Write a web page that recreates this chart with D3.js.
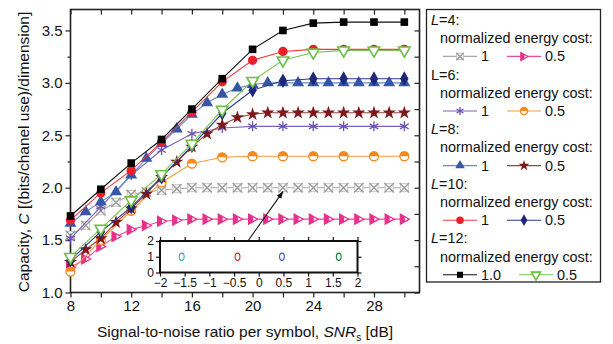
<!DOCTYPE html>
<html>
<head>
<meta charset="utf-8">
<script src="https://cdn.jsdelivr.net/npm/d3@7"></script>
<style>
  body { margin: 0; background: #fff; }
  svg text { font-family: "Liberation Sans", Arial, Helvetica, sans-serif; fill: #111; }
</style>
</head>
<body>
<div id="container"></div>
<script>
/* DATA */
const snr1 = [8, 9, 10, 11, 12, 13, 14, 15, 16, 17, 18, 19, 20, 21, 22, 23, 24, 25, 26, 27, 28, 29, 30];
const snr2 = [8, 10, 12, 14, 16, 18, 20, 22, 24, 26, 28, 30];

// L=4
const l4c1  = [1.545, 1.64, 1.78, 1.86, 1.935, 1.96, 1.975, 1.99, 2.0, 2.0, 2.0, 2.0, 2.0, 2.0, 2.0, 2.0, 2.0, 2.0, 2.0, 2.0, 2.0, 2.0, 2.0];
const l4c05 = [1.24, 1.32, 1.44, 1.535, 1.60, 1.64, 1.68, 1.69, 1.70, 1.70, 1.70, 1.70, 1.70, 1.70, 1.70, 1.70, 1.70, 1.70, 1.70, 1.70, 1.70, 1.70, 1.70];
// L=6
const l6c1  = [1.515, 1.82, 2.12, 2.36, 2.515, 2.57, 2.585, 2.585, 2.585, 2.585, 2.585, 2.585];
const l6c05 = [1.20, 1.50, 1.78, 2.05, 2.23, 2.29, 2.30, 2.30, 2.30, 2.30, 2.30, 2.30];
// L=8
const l8c1  = [1.66, 1.77, 1.865, 1.96, 2.12, 2.28, 2.42, 2.56, 2.70, 2.81, 2.89, 2.95, 2.985, 3.0, 3.0, 3.0, 3.0, 3.0, 3.0, 3.0, 3.0, 3.0, 3.0];
const l8c05 = [1.29, 1.41, 1.515, 1.67, 1.80, 1.94, 2.10, 2.245, 2.39, 2.515, 2.60, 2.67, 2.70, 2.715, 2.715, 2.715, 2.715, 2.715, 2.715, 2.715, 2.715, 2.715, 2.715];
// L=10
const l10c1  = [1.69, 1.95, 2.165, 2.435, 2.72, 3.01, 3.215, 3.30, 3.32, 3.32, 3.32, 3.32];
const l10c05 = [1.31, 1.58, 1.815, 2.10, 2.40, 2.71, 2.93, 3.02, 3.04, 3.04, 3.04, 3.04];
// L=12
const l12c1  = [1.73, 1.985, 2.235, 2.46, 2.75, 3.04, 3.32, 3.50, 3.57, 3.58, 3.58, 3.58];
const l12c05 = [1.34, 1.61, 1.88, 2.13, 2.42, 2.745, 3.02, 3.215, 3.29, 3.31, 3.31, 3.31];

const xTickLabels = [8, 12, 16, 20, 24, 28];
const yTickLabels = [1.0, 1.5, 2.0, 2.5, 3.0, 3.5];

// inset
const insetX = [-1.56, -0.43, 0.47, 1.62];
const insetY = [1, 1, 1, 1];
const insetColors = ["#25b8b8", "#e8202a", "#3a5cb8", "#17853a"];
const insetXTicks = [-2, -1.5, -1, -0.5, 0, 0.5, 1, 1.5, 2];
const insetYTicks = [0, 1, 2];

/* SERIES STYLE TABLE */
const series = [
  { x: snr1, y: l4c1,   color: "#9a9a9a", line: "#a8a8a8", mark: "xbox" },
  { x: snr1, y: l4c05,  color: "#e6318a", line: "#ea4b98", mark: "triRight" },
  { x: snr2, y: l6c1,   color: "#6c52b3", line: "#7a62bb", mark: "asterisk" },
  { x: snr2, y: l6c05,  color: "#f48a1f", line: "#f59a3c", mark: "halfCircle" },
  { x: snr1, y: l8c1,   color: "#3557a8", line: "#6a88cc", mark: "triUp" },
  { x: snr1, y: l8c05,  color: "#7e1719", line: "#9a4042", mark: "star" },
  { x: snr2, y: l10c05, color: "#1d2878", line: "#2a3a8c", mark: "diamond" },
  { x: snr2, y: l10c1,  color: "#ec1f29", line: "#ee3a40", mark: "circle" },
  { x: snr2, y: l12c05, color: "#6cbf45", line: "#77c455", mark: "triDown" },
  { x: snr2, y: l12c1,  color: "#000000", line: "#111111", mark: "square" }
];

const legendGroups = [
  { head: "L", rest: "=4:", italic: true,  items: [[0, "1"], [1, "0.5"]] },
  { head: "L", rest: "=6:", italic: false, items: [[2, "1"], [3, "0.5"]] },
  { head: "L", rest: "=8:", italic: true,  items: [[4, "1"], [5, "0.5"]] },
  { head: "L", rest: "=10:", italic: true, items: [[7, "1"], [6, "0.5"]] },
  { head: "L", rest: "=12:", italic: true, items: [[9, "1.0"], [8, "0.5"]] }
];

/* CONSTANTS */
const width = 613, height = 344;
const margin = { top: 9.5, left: 70.5, right: 193.5, bottom: 51.5 };
const plotR = width - margin.right, plotB = height - margin.bottom;

const svg = d3.select("#container").append("svg")
  .attr("width", width).attr("height", height);

/* SCALES */
const xScale = d3.scaleLinear().domain([8, 31]).range([margin.left, plotR]);
const yScale = d3.scaleLinear().domain([1.0, 3.7]).range([plotB, margin.top]);

/* AXES */
const minorX = [8, 10, 12, 14, 16, 18, 20, 22, 24, 26, 28, 30];
const minorY = [1.25, 1.75, 2.25, 2.75, 3.25];
const axisColor = "#222";

function styleAxis(g) {
  g.select(".domain").remove();
  g.selectAll("line").attr("stroke", axisColor).attr("stroke-width", 1.2);
  g.selectAll("text").attr("font-size", 15).attr("fill", "#111");
}

svg.append("g").attr("transform", `translate(0,${plotB})`)
  .call(d3.axisBottom(xScale).tickValues(minorX).tickSize(5).tickPadding(3)
    .tickFormat(d => xTickLabels.includes(d) ? d : ""))
  .call(styleAxis);
svg.append("g").attr("transform", `translate(0,${margin.top})`)
  .call(d3.axisBottom(xScale).tickValues(minorX).tickSize(5).tickFormat(""))
  .call(styleAxis);
svg.append("g").attr("transform", `translate(${margin.left},0)`)
  .call(d3.axisLeft(yScale).tickValues(yTickLabels).tickSize(5).tickPadding(3).tickFormat(d3.format(".1f")))
  .call(styleAxis);
svg.append("g").attr("transform", `translate(${margin.left},0)`)
  .call(d3.axisLeft(yScale).tickValues(minorY).tickSize(3).tickFormat(""))
  .call(styleAxis);
svg.append("g").attr("transform", `translate(${plotR},0)`)
  .call(d3.axisLeft(yScale).tickValues(yTickLabels.concat(minorY)).tickSize(5).tickFormat(""))
  .call(styleAxis);

svg.append("rect")
  .attr("x", margin.left).attr("y", margin.top)
  .attr("width", plotR - margin.left).attr("height", plotB - margin.top)
  .attr("fill", "none").attr("stroke", axisColor).attr("stroke-width", 1.6);

/* TITLES */
const xt = svg.append("text").attr("x", (margin.left + plotR) / 2).attr("y", 337)
  .attr("text-anchor", "middle").attr("font-size", 15.5);
xt.append("tspan").text("Signal-to-noise ratio per symbol, ");
xt.append("tspan").attr("font-style", "italic").text("SNR");
xt.append("tspan").attr("font-size", 10).attr("dy", 4).text("s");
xt.append("tspan").attr("dy", -4).text(" [dB]");

const yt = svg.append("text").attr("transform", "translate(29,152) rotate(-90)")
  .attr("text-anchor", "middle").attr("font-size", 15.5);
yt.append("tspan").text("Capacity, ");
yt.append("tspan").attr("font-style", "italic").text("C");
yt.append("tspan").text(" [(bits/chanel use)/dimension]");

/* MARKERS */
function drawMarker(g, s, k) {
  const c = s.color, sc = k || 1;
  const sym = (type, size, rot) => g.append("path")
    .attr("d", d3.symbol().type(type).size(size * sc * sc)())
    .attr("transform", rot ? `rotate(${rot})` : null);
  switch (s.mark) {
    case "xbox":
      g.append("rect").attr("x", -4 * sc).attr("y", -4 * sc).attr("width", 8 * sc).attr("height", 8 * sc)
        .attr("fill", "#fff").attr("stroke", "#c4c4c4").attr("stroke-width", 1);
      sym(d3.symbolTimes, 60).attr("fill", "none").attr("stroke", c).attr("stroke-width", 1.4);
      break;
    case "triRight":
      g.append("path").attr("d", `M${-4*sc},${-5*sc}L${5*sc},0L${-4*sc},${5*sc}Z`)
        .attr("fill", "#fff").attr("stroke", c).attr("stroke-width", 1.2);
      g.append("path").attr("d", `M${-4*sc},${-5*sc}L${0.5*sc},${-2.5*sc}L${0.5*sc},${2.5*sc}L${-4*sc},${5*sc}Z`)
        .attr("fill", c);
      break;
    case "asterisk":
      sym(d3.symbolAsterisk, 70).attr("fill", "none").attr("stroke", c).attr("stroke-width", 1.3);
      break;
    case "halfCircle": {
      const r = 4.5 * sc;
      g.append("circle").attr("r", r).attr("fill", "#fff").attr("stroke", c).attr("stroke-width", 1.3);
      g.append("path").attr("d", `M${-r},0A${r},${r} 0 0 1 ${r},0Z`).attr("fill", c);
      break;
    }
    case "triUp":
      sym(d3.symbolTriangle, 62).attr("fill", c);
      break;
    case "triDown":
      sym(d3.symbolTriangle, 58, 180).attr("fill", "#fff").attr("stroke", c).attr("stroke-width", 1.6);
      break;
    case "star":
      sym(d3.symbolStar, 55).attr("fill", c);
      break;
    case "circle":
      sym(d3.symbolCircle, 68).attr("fill", c);
      break;
    case "diamond":
      sym(d3.symbolDiamond, 62).attr("fill", c);
      break;
    case "square":
      sym(d3.symbolSquare, 58).attr("fill", c);
      break;
  }
}

/* SERIES */
const line = d3.line().x(d => xScale(d[0])).y(d => yScale(d[1]));
const plot = svg.append("g");
series.forEach(s => {
  const pts = s.x.map((x, i) => [x, s.y[i]]);
  const g = plot.append("g");
  g.append("path").datum(pts).attr("d", line)
    .attr("fill", "none").attr("stroke", s.line).attr("stroke-width", 1.1);
  g.selectAll("g.m").data(pts).join("g").attr("class", "m")
    .attr("transform", d => `translate(${xScale(d[0])},${yScale(d[1])})`)
    .each(function () { drawMarker(d3.select(this), s); });
});

/* INSET */
const ix = d3.scaleLinear().domain([-2, 2]).range([160, 357.5]);
const iy = d3.scaleLinear().domain([0, 2]).range([272.5, 241]);
const inset = svg.append("g");
inset.append("rect").attr("x", 160).attr("y", 241).attr("width", 197.5).attr("height", 31.5)
  .attr("fill", "#fff").attr("stroke", "#111").attr("stroke-width", 2);
function styleInset(g) {
  g.select(".domain").remove();
  g.selectAll("line").attr("stroke", "#111").attr("stroke-width", 1.2);
  g.selectAll("text").attr("font-size", 12).attr("fill", "#111");
}
inset.append("g").attr("transform", "translate(0,272.5)")
  .call(d3.axisBottom(ix).tickValues(insetXTicks).tickSize(4).tickPadding(2).tickFormat(d3.format("")))
  .call(styleInset);
inset.append("g").attr("transform", "translate(0,241)")
  .call(d3.axisTop(ix).tickValues(insetXTicks).tickSize(4).tickFormat(""))
  .call(styleInset);
inset.append("g").attr("transform", "translate(160,0)")
  .call(d3.axisLeft(iy).tickValues(insetYTicks).tickSize(4).tickPadding(2).tickFormat(d3.format("")))
  .call(styleInset);
inset.append("g").attr("transform", "translate(357.5,0)")
  .call(d3.axisRight(iy).tickValues(insetYTicks).tickSize(4).tickFormat(""))
  .call(styleInset);
inset.selectAll("ellipse.p").data(insetX).join("ellipse").attr("class", "p")
  .attr("cx", d => ix(d)).attr("cy", (d, i) => iy(insetY[i]))
  .attr("rx", 2.4).attr("ry", 3.6)
  .attr("fill", "none").attr("stroke", (d, i) => insetColors[i]).attr("stroke-width", 1.1);

/* ARROW */
const defs = svg.append("defs");
defs.append("marker").attr("id", "ah").attr("viewBox", "0 0 10 10")
  .attr("refX", 9).attr("refY", 5).attr("markerWidth", 7).attr("markerHeight", 7)
  .attr("orient", "auto-start-reverse")
  .append("path").attr("d", "M0,1.5L10,5L0,8.5Z").attr("fill", "#111");
svg.append("line")
  .attr("x1", ix(-0.22)).attr("y1", iy(2))
  .attr("x2", xScale(22)).attr("y2", yScale(2.0) + 4)
  .attr("stroke", "#111").attr("stroke-width", 1.1).attr("marker-end", "url(#ah)");

/* LEGEND */
const lg = svg.append("g");
lg.append("rect").attr("x", 426.5).attr("y", 9.5).attr("width", 174).attr("height", 272.5)
  .attr("fill", "#fff").attr("stroke", "#222").attr("stroke-width", 1.3);
const rowH = 18.2, row0 = 20;
const fs = 14.4;
legendGroups.forEach((grp, gi) => {
  const y0 = row0 + gi * 3 * rowH;
  const h = lg.append("text").attr("x", 431).attr("y", y0).attr("dy", "0.35em").attr("font-size", fs);
  h.append("tspan").attr("font-style", grp.italic ? "italic" : "normal").text(grp.head);
  h.append("tspan").text(grp.rest);
  lg.append("text").attr("x", 440).attr("y", y0 + rowH).attr("dy", "0.35em").attr("font-size", fs)
    .text("normalized energy cost:");
  const yy = y0 + 2 * rowH;
  let xx = 443;
  grp.items.forEach(([si, label]) => {
    const s = series[si];
    lg.append("line").attr("x1", xx).attr("x2", xx + 34).attr("y1", yy).attr("y2", yy)
      .attr("stroke", s.line).attr("stroke-width", 1.1);
    const mg = lg.append("g").attr("transform", `translate(${xx + 17},${yy})`);
    drawMarker(mg, s, 0.8);
    const t = lg.append("text").attr("x", xx + 38).attr("y", yy).attr("dy", "0.35em")
      .attr("font-size", fs).text(label);
    xx = xx + 38 + t.node().getComputedTextLength() + 18;
  });
});
</script>
</body>
</html>
